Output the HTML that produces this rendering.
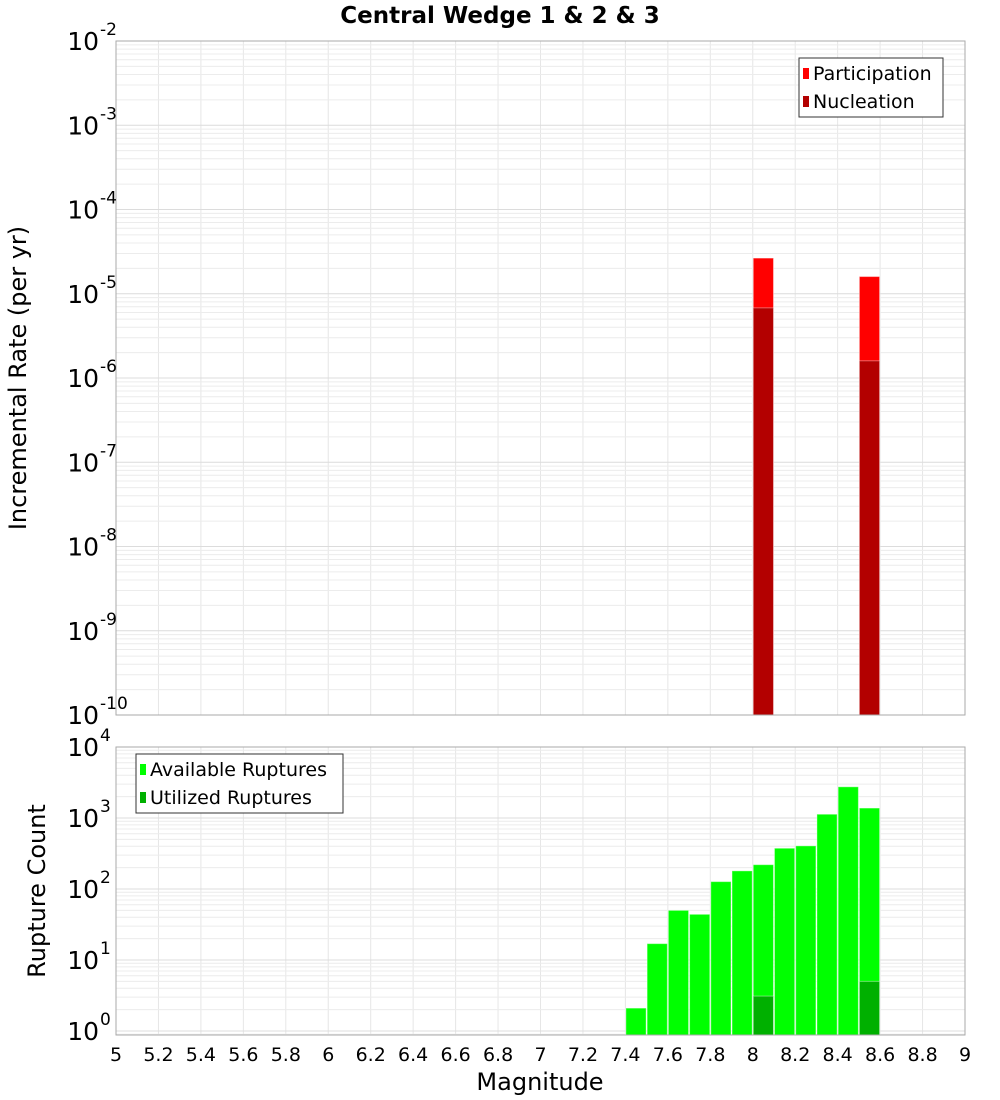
<!DOCTYPE html>
<html><head><meta charset="utf-8"><style>
html,body{margin:0;padding:0;background:#fff;}
svg{display:block;font-family:"DejaVu Sans","Liberation Sans",sans-serif;}
</style></head><body>
<svg id="chart" width="1000" height="1100" xmlns="http://www.w3.org/2000/svg">
<text x="500" y="23" text-anchor="middle" font-size="23" font-weight="bold">Central Wedge 1 &amp; 2 &amp; 3</text>
<g id="top"></g>
<g id="bot"></g>
<text transform="translate(26,378) rotate(-90)" text-anchor="middle" font-size="24">Incremental Rate (per yr)</text>
<text transform="translate(45,891) rotate(-90)" text-anchor="middle" font-size="24">Rupture Count</text>
<text x="540" y="1090" text-anchor="middle" font-size="24">Magnitude</text>
</svg>
<script>
const rateMags = [8.05, 8.55];
const participation = [2.65e-5, 1.6e-5];
const nucleation = [6.8e-6, 1.6e-6];
const countMags = [7.45, 7.55, 7.65, 7.75, 7.85, 7.95, 8.05, 8.15, 8.25, 8.35, 8.45, 8.55];
const available = [2.1, 17, 50, 44, 127, 180, 220, 375, 405, 1130, 2750, 1380];
const utilized = [0, 0, 0, 0, 0, 0, 3.1, 0, 0, 0, 0, 5];
const xTicks = [5, 5.2, 5.4, 5.6, 5.8, 6, 6.2, 6.4, 6.6, 6.8, 7, 7.2, 7.4, 7.6, 7.8, 8, 8.2, 8.4, 8.6, 8.8, 9];
const rateDecades = [-2, -3, -4, -5, -6, -7, -8, -9, -10];
const countDecades = [4, 3, 2, 1, 0];

const NS = "http://www.w3.org/2000/svg";
const X0 = 116, X1 = 965;
const xs = m => X0 + (m - 5) / 4 * (X1 - X0);
const T = {top: 41, bot: 715, hi: -2, lo: -10};
const B = {top: 747, bot: 1035, hi: 4, lo: 4 - 288 / 71};
const ysT = v => T.top + (T.hi - Math.log10(v)) / (T.hi - T.lo) * (T.bot - T.top);
const ysB = v => B.top + (B.hi - Math.log10(v)) / (B.hi - B.lo) * (B.bot - B.top);
function mk(parent, tag, attrs, txt) {
  const e = document.createElementNS(NS, tag);
  for (const k in attrs) e.setAttribute(k, attrs[k]);
  if (txt !== undefined) e.textContent = txt;
  parent.appendChild(e);
  return e;
}
function grid(g, P, ys) {
  for (const t of xTicks) {
    const l = mk(g, 'line', {x1: xs(t), x2: xs(t), y1: P.top, y2: P.bot, stroke: '#e6e6e6', 'stroke-width': 1});
    
    
  }
  for (let d = Math.floor(P.lo); d < P.hi; d++) {
    for (let k = 1; k <= 9; k++) {
      const v = k * Math.pow(10, d);
      const y = ys(v);
      if (y < P.top || y > P.bot) continue;
      const l = mk(g, 'line', {x1: X0, x2: X1, y1: y, y2: y, stroke: k === 1 ? '#dcdcdc' : '#ececec', 'stroke-width': 1});
      
      
    }
  }
}
function frame(g, P) {
  const r = mk(g, 'rect', {x: X0, y: P.top, width: X1 - X0, height: P.bot - P.top, fill: 'none', stroke: '#aaa', 'stroke-width': 1});
  
  
}
function ylabels(g, decs, ys) {
  for (const d of decs) {
    const y = ys(Math.pow(10, d));
    const t = mk(g, 'text', {x: 99, y: y + 9, 'text-anchor': 'end', 'font-size': 25});
    t.textContent = '10';
    
    
    const s = mk(g, 'text', {x: 100, y: y - 6, 'font-size': 17}, String(d));
    
    
  }
}
function bar(g, m, v, ys, P, color, name) {
  if (!(v > 0)) return;
  const y = Math.max(ys(v), P.top);
  const r = mk(g, 'rect', {x: xs(m - 0.05) + 0.5, y: y, width: xs(m + 0.05) - xs(m - 0.05) - 1, height: P.bot - y, fill: color, stroke: 'rgba(255,255,255,0.4)', 'stroke-width': 1});
  
  
}
function legend(g, x, y, w, entries) {
  const r = mk(g, 'rect', {x: x, y: y, width: w, height: 59, fill: '#fff', stroke: '#333', 'stroke-width': 1});
  
  
  entries.forEach((e, i) => {
    const s = mk(g, 'rect', {x: x + 4, y: y + 10 + i * 28, width: 6, height: 11, fill: e[1]});
    
    
    const t = mk(g, 'text', {x: x + 14, y: y + 22 + i * 28, 'font-size': 19}, e[0]);
    
    
  });
}
const gT = document.getElementById('top'), gB = document.getElementById('bot');
grid(gT, T, ysT);
rateMags.forEach((m, i) => bar(gT, m, participation[i], ysT, T, '#ff0000', 'participation-bar'));
rateMags.forEach((m, i) => bar(gT, m, nucleation[i], ysT, T, '#b30000', 'nucleation-bar'));
frame(gT, T);
ylabels(gT, rateDecades, ysT);
legend(gT, 799, 58, 144, [['Participation', '#ff0000'], ['Nucleation', '#b30000']]);

grid(gB, B, ysB);
countMags.forEach((m, i) => bar(gB, m, available[i], ysB, B, '#00ff00', 'available-bar'));
countMags.forEach((m, i) => bar(gB, m, utilized[i], ysB, B, '#00b000', 'utilized-bar'));
frame(gB, B);
ylabels(gB, countDecades, ysB);
legend(gB, 136, 754, 207, [['Available Ruptures', '#00ff00'], ['Utilized Ruptures', '#00b000']]);
for (const t of xTicks) {
  const e = mk(gB, 'text', {x: xs(t), y: 1061, 'text-anchor': 'middle', 'font-size': 19}, String(t));
  
  
}
</script>
</body></html>
